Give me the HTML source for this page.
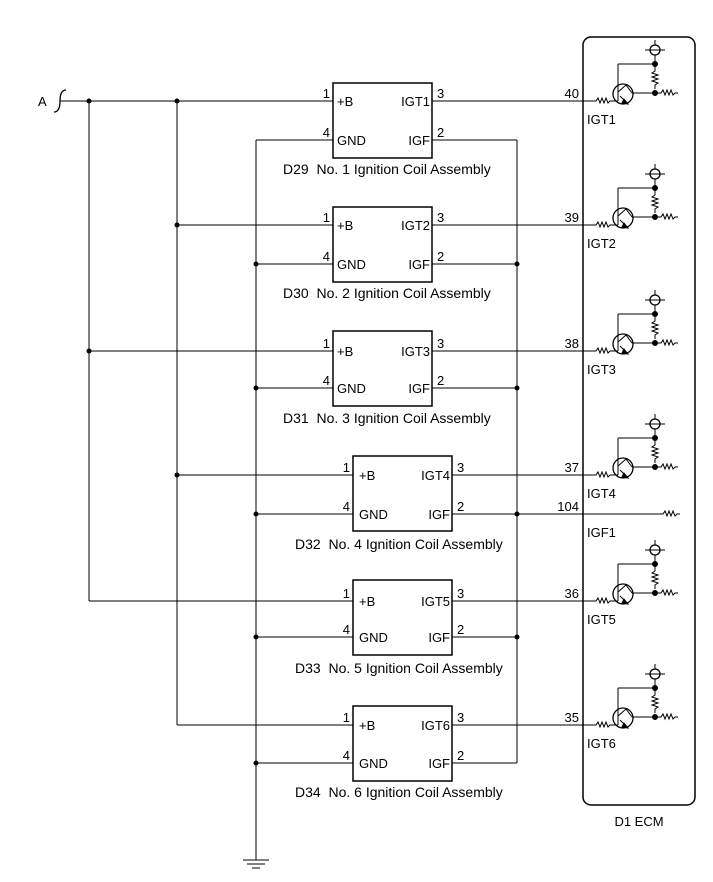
<!DOCTYPE html>
<html><head><style>
html,body{margin:0;padding:0;background:#fff}
svg{display:block}
text{font-family:"Liberation Sans",Arial,sans-serif;font-size:13px;fill:#000}
text.cap{font-size:14px}
</style></head><body>
<svg width="713" height="882" viewBox="0 0 713 882" xmlns="http://www.w3.org/2000/svg">
<defs>
<g id="zr"><path d="M0,0 h3 l2,-3 l2,5 l2,-5 l2,5 l2,-5 l2,5 l2,-2 h3" fill="none" stroke="#000" stroke-width="1"/></g>
<g id="tr" fill="none" stroke="#000" stroke-width="1">
  <use href="#zr" x="593" y="101"/>
  <circle cx="623" cy="94" r="10" stroke-width="1.3"/>
  <line x1="618" y1="87" x2="618" y2="101"/>
  <line x1="613" y1="101" x2="618" y2="101"/>
  <line x1="618" y1="88" x2="618" y2="64"/>
  <line x1="618" y1="64" x2="655" y2="64"/>
  <line x1="620" y1="96" x2="627" y2="103"/>
  <line x1="618" y1="92" x2="626" y2="85"/>
  <line x1="626" y1="85" x2="632" y2="93"/>
  <line x1="632" y1="93" x2="655" y2="93"/>
  <line x1="655" y1="55" x2="655" y2="68"/>
  <circle cx="655" cy="50" r="5" stroke-width="1.3"/>
  <line x1="645" y1="50" x2="665" y2="50"/>
  <line x1="655" y1="40" x2="655" y2="45"/>
  <path d="M655,68 v3 l-3,2 l6,2 l-6,2 l6,2 l-6,2 l6,2 l-3,2 v4"/>
  <use href="#zr" x="658" y="93"/>
  <circle cx="655" cy="64" r="2.5" fill="#000"/>
  <circle cx="655" cy="93" r="2.5" fill="#000"/>
  <path d="M624,99 l4,5 l-6,-1 z" fill="#000"/>
</g>
</defs>
<g stroke="#000" stroke-width="1" fill="none">
  <rect x="583" y="37" width="112" height="768" rx="8" stroke-width="1.5"/>
  <path d="M66,90 q-6,0 -6,11 q0,11 -6,11" stroke-width="1.3"/>
  <line x1="60" y1="101" x2="333" y2="101"/>
  <line x1="89" y1="101" x2="89" y2="601"/>
  <line x1="177" y1="101" x2="177" y2="725"/>
  <line x1="256" y1="140" x2="256" y2="860"/>
  <line x1="517" y1="140" x2="517" y2="763"/>
  <line x1="243" y1="860" x2="269" y2="860"/>
  <line x1="247" y1="864" x2="265" y2="864"/>
  <line x1="252" y1="868" x2="260" y2="868"/>
  <g stroke-width="1.5">
  <rect x="333" y="83" width="99" height="75"/>
  <rect x="333" y="207" width="99" height="75"/>
  <rect x="333" y="331" width="99" height="75"/>
  <rect x="353" y="456" width="99" height="75"/>
  <rect x="353" y="580" width="99" height="75"/>
  <rect x="353" y="706" width="99" height="75"/>
  </g>
  <line x1="177" y1="225" x2="333" y2="225"/>
  <line x1="89" y1="351" x2="333" y2="351"/>
  <line x1="177" y1="475" x2="353" y2="475"/>
  <line x1="89" y1="601" x2="353" y2="601"/>
  <line x1="177" y1="725" x2="353" y2="725"/>
  <line x1="256" y1="140" x2="333" y2="140"/>
  <line x1="256" y1="264" x2="333" y2="264"/>
  <line x1="256" y1="388" x2="333" y2="388"/>
  <line x1="256" y1="514" x2="353" y2="514"/>
  <line x1="256" y1="637" x2="353" y2="637"/>
  <line x1="256" y1="763" x2="353" y2="763"/>
  <line x1="432" y1="140" x2="517" y2="140"/>
  <line x1="432" y1="264" x2="517" y2="264"/>
  <line x1="432" y1="388" x2="517" y2="388"/>
  <line x1="452" y1="514" x2="660" y2="514"/>
  <line x1="452" y1="637" x2="517" y2="637"/>
  <line x1="452" y1="763" x2="517" y2="763"/>
  <use href="#zr" x="660" y="514"/>
  <line x1="432" y1="101" x2="593" y2="101"/>
  <line x1="432" y1="225" x2="593" y2="225"/>
  <line x1="432" y1="351" x2="593" y2="351"/>
  <line x1="452" y1="475" x2="593" y2="475"/>
  <line x1="452" y1="601" x2="593" y2="601"/>
  <line x1="452" y1="725" x2="593" y2="725"/>
</g>
<g fill="#000">
  <circle cx="89" cy="101" r="2.5"/><circle cx="177" cy="101" r="2.5"/>
  <circle cx="177" cy="225" r="2.5"/><circle cx="89" cy="351" r="2.5"/>
  <circle cx="177" cy="475" r="2.5"/>
  <circle cx="256" cy="264" r="2.5"/><circle cx="256" cy="388" r="2.5"/>
  <circle cx="256" cy="514" r="2.5"/><circle cx="256" cy="637" r="2.5"/>
  <circle cx="256" cy="763" r="2.5"/>
  <circle cx="517" cy="264" r="2.5"/><circle cx="517" cy="388" r="2.5"/>
  <circle cx="517" cy="514" r="2.5"/><circle cx="517" cy="637" r="2.5"/>
</g>
<use href="#tr" y="0"/>
<use href="#tr" y="124"/>
<use href="#tr" y="250"/>
<use href="#tr" y="374"/>
<use href="#tr" y="500"/>
<use href="#tr" y="624"/>
<text x="38" y="106">A</text>
<g>
<text x="330" y="98" text-anchor="end">1</text><text x="337" y="106">+B</text><text x="430" y="106" text-anchor="end">IGT1</text><text x="437" y="98">3</text>
<text x="330" y="137" text-anchor="end">4</text><text x="337" y="145">GND</text><text x="430" y="145" text-anchor="end">IGF</text><text x="437" y="137">2</text>
<text class="cap" x="283" y="174" xml:space="preserve">D29  No. 1 Ignition Coil Assembly</text>

<text x="330" y="222" text-anchor="end">1</text><text x="337" y="230">+B</text><text x="430" y="230" text-anchor="end">IGT2</text><text x="437" y="222">3</text>
<text x="330" y="261" text-anchor="end">4</text><text x="337" y="269">GND</text><text x="430" y="269" text-anchor="end">IGF</text><text x="437" y="261">2</text>
<text class="cap" x="283" y="298" xml:space="preserve">D30  No. 2 Ignition Coil Assembly</text>

<text x="330" y="348" text-anchor="end">1</text><text x="337" y="356">+B</text><text x="430" y="356" text-anchor="end">IGT3</text><text x="437" y="348">3</text>
<text x="330" y="385" text-anchor="end">4</text><text x="337" y="393">GND</text><text x="430" y="393" text-anchor="end">IGF</text><text x="437" y="385">2</text>
<text class="cap" x="283" y="423" xml:space="preserve">D31  No. 3 Ignition Coil Assembly</text>

<text x="350" y="472" text-anchor="end">1</text><text x="359" y="480">+B</text><text x="450" y="480" text-anchor="end">IGT4</text><text x="457" y="472">3</text>
<text x="350" y="511" text-anchor="end">4</text><text x="359" y="519">GND</text><text x="450" y="519" text-anchor="end">IGF</text><text x="457" y="511">2</text>
<text class="cap" x="295" y="549" xml:space="preserve">D32  No. 4 Ignition Coil Assembly</text>

<text x="350" y="598" text-anchor="end">1</text><text x="359" y="606">+B</text><text x="450" y="606" text-anchor="end">IGT5</text><text x="457" y="598">3</text>
<text x="350" y="634" text-anchor="end">4</text><text x="359" y="642">GND</text><text x="450" y="642" text-anchor="end">IGF</text><text x="457" y="634">2</text>
<text class="cap" x="295" y="673" xml:space="preserve">D33  No. 5 Ignition Coil Assembly</text>

<text x="350" y="722" text-anchor="end">1</text><text x="359" y="730">+B</text><text x="450" y="730" text-anchor="end">IGT6</text><text x="457" y="722">3</text>
<text x="350" y="760" text-anchor="end">4</text><text x="359" y="768">GND</text><text x="450" y="768" text-anchor="end">IGF</text><text x="457" y="760">2</text>
<text class="cap" x="295" y="797" xml:space="preserve">D34  No. 6 Ignition Coil Assembly</text>
</g>
<g text-anchor="end">
<text x="579" y="98">40</text><text x="579" y="222">39</text><text x="579" y="348">38</text>
<text x="579" y="472">37</text><text x="579" y="511">104</text><text x="579" y="598">36</text><text x="579" y="722">35</text>
</g>
<text x="587" y="124">IGT1</text><text x="587" y="248">IGT2</text><text x="587" y="374">IGT3</text>
<text x="587" y="498">IGT4</text><text x="587" y="537">IGF1</text><text x="587" y="624">IGT5</text><text x="587" y="748">IGT6</text>
<text x="639" y="826" text-anchor="middle">D1 ECM</text>
</svg>
</body></html>
